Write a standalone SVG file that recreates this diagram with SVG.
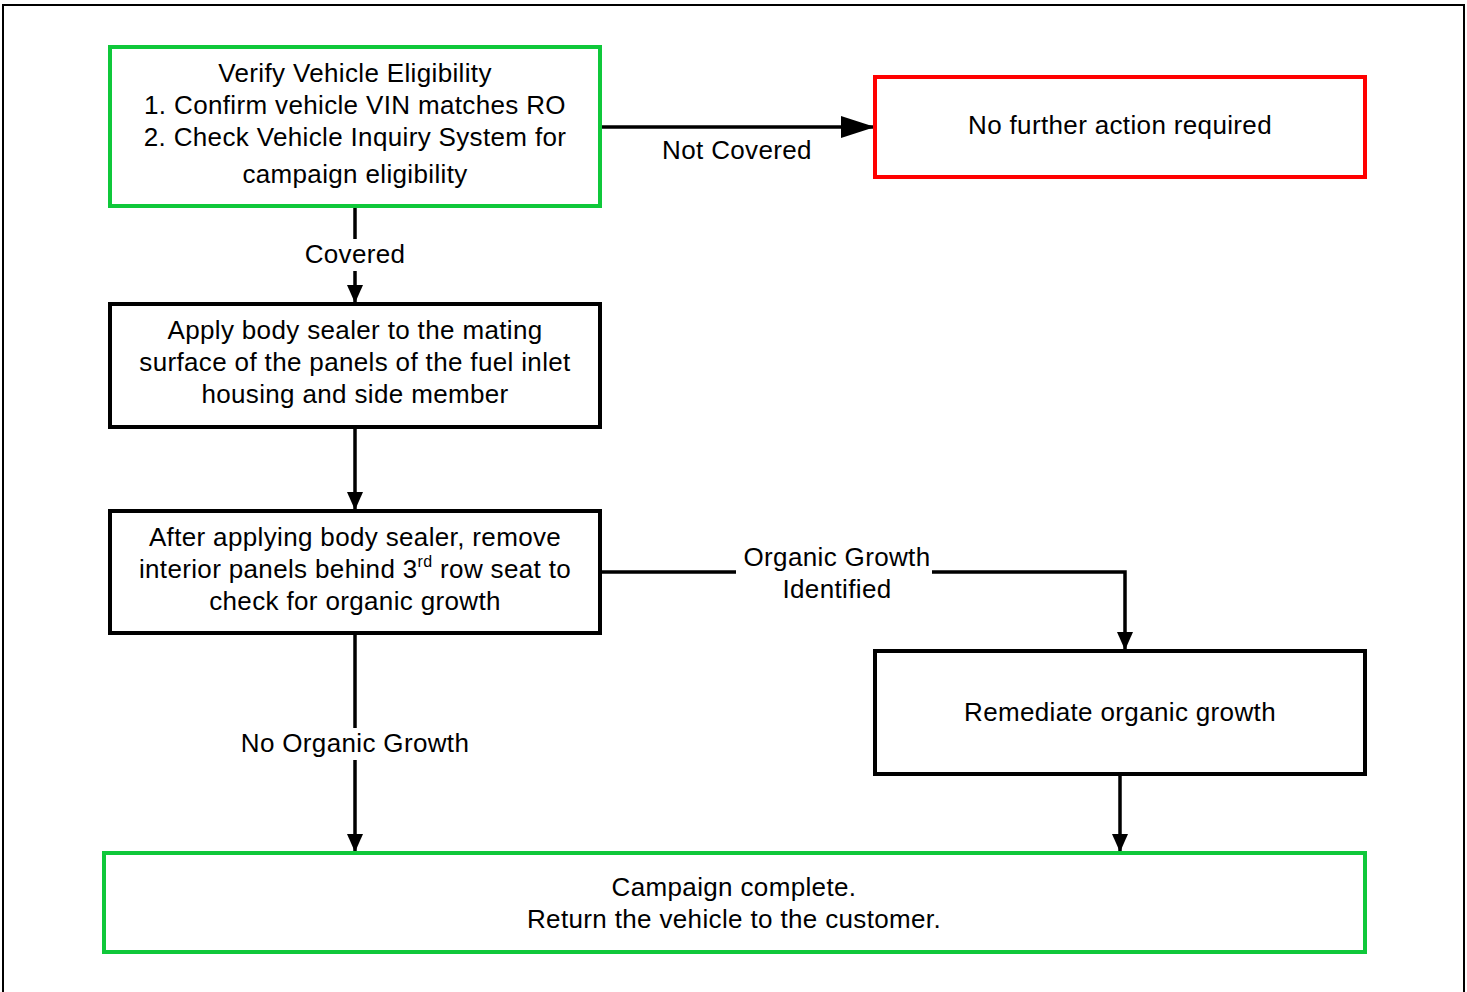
<svg xmlns="http://www.w3.org/2000/svg" width="1467" height="992" viewBox="0 0 1467 992">
<defs>
<style>
.t{font-family:"Liberation Sans",Arial,sans-serif;font-size:26px;letter-spacing:0.35px;fill:#000;text-anchor:middle}
.box{fill:#fff;stroke:#000;stroke-width:4}
.g{stroke:#0fc83a}
.r{stroke:#ff0000}
.ln{fill:none;stroke:#000;stroke-width:3.5}
.bg{fill:#fff}
</style>
<marker id="ah" markerUnits="userSpaceOnUse" markerWidth="18" markerHeight="18" viewBox="0 0 18 18" refX="18" refY="9" orient="auto">
<path d="M0,1 L18,9 L0,17 Z" fill="#000"/>
</marker>
<marker id="ahL" markerUnits="userSpaceOnUse" markerWidth="34" markerHeight="24" viewBox="0 0 34 24" refX="34" refY="12" orient="auto">
<path d="M0,1 L34,12 L0,23 Z" fill="#000"/>
</marker>
</defs>
<rect x="0" y="0" width="1467" height="992" fill="#fff"/>
<rect x="3" y="5" width="1461" height="1000" fill="none" stroke="#000" stroke-width="2"/>
<g id="connectors">
<path class="ln" d="M600,127 L875,127" marker-end="url(#ahL)"/>
<path class="ln" d="M355,206 L355,303" marker-end="url(#ah)"/>
<path class="ln" d="M355,427 L355,510" marker-end="url(#ah)"/>
<path class="ln" d="M600,572 L1125,572 L1125,650" marker-end="url(#ah)"/>
<path class="ln" d="M355,633 L355,852" marker-end="url(#ah)"/>
<path class="ln" d="M1120,774 L1120,852" marker-end="url(#ah)"/>
<rect class="bg" x="300" y="239" width="110" height="32"/>
<rect class="bg" x="736" y="545" width="196" height="60"/>
<rect class="bg" x="234" y="728" width="242" height="32"/>
<text class="t" x="737" y="159">Not Covered</text>
<text class="t" x="355" y="263">Covered</text>
<text class="t" x="837" y="566">Organic Growth</text>
<text class="t" x="837" y="598">Identified</text>
<text class="t" x="355" y="752">No Organic Growth</text>
</g>
<g id="verify">
<rect class="box g" x="110" y="47" width="490" height="159"/>
<text class="t" x="355" y="82">Verify Vehicle Eligibility</text>
<text class="t" x="355" y="114">1. Confirm vehicle VIN matches RO</text>
<text class="t" x="355" y="146">2. Check Vehicle Inquiry System for</text>
<text class="t" x="355" y="183">campaign eligibility</text>
</g>
<g id="nofurther">
<rect class="box r" x="875" y="77" width="490" height="100"/>
<text class="t" x="1120" y="134">No further action required</text>
</g>
<g id="apply">
<rect class="box" x="110" y="304" width="490" height="123"/>
<text class="t" x="355" y="339">Apply body sealer to the mating</text>
<text class="t" x="355" y="371">surface of the panels of the fuel inlet</text>
<text class="t" x="355" y="403">housing and side member</text>
</g>
<g id="after">
<rect class="box" x="110" y="511" width="490" height="122"/>
<text class="t" x="355" y="546">After applying body sealer, remove</text>
<text class="t" x="355" y="578">interior panels behind 3<tspan font-size="16" dy="-11">rd</tspan><tspan dy="11"> row seat to</tspan></text>
<text class="t" x="355" y="610">check for organic growth</text>
</g>
<g id="remediate">
<rect class="box" x="875" y="651" width="490" height="123"/>
<text class="t" x="1120" y="721">Remediate organic growth</text>
</g>
<g id="complete">
<rect class="box g" x="104" y="853" width="1261" height="99"/>
<text class="t" x="734" y="896">Campaign complete.</text>
<text class="t" x="734" y="928">Return the vehicle to the customer.</text>
</g>
</svg>
